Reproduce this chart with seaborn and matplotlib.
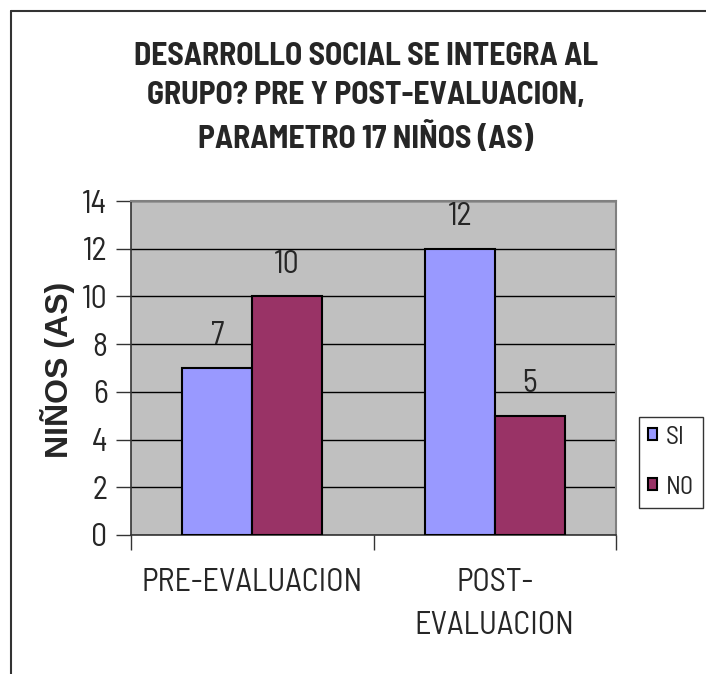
import matplotlib
matplotlib.use("Agg")
import matplotlib.pyplot as plt
import seaborn as sns
import pandas as pd
from matplotlib import font_manager as fm
from matplotlib.font_manager import FontProperties
from matplotlib.textpath import TextPath
from matplotlib.lines import Line2D
from matplotlib.patches import Patch

categories = ["PRE-EVALUACION", "POST-\nEVALUACION"]
series = ["SI", "N0"]
si_values = [7, 12]
no_values = [10, 5]
yticks = [0, 2, 4, 6, 8, 10, 12, 14]
title = "DESARROLLO SOCIAL SE INTEGRA AL\nGRUPO? PRE Y POST-EVALUACION,\nPARAMETRO 17 NIÑOS (AS)"
ylabel = "NIÑOS (AS)"
colors = {"SI": "#9999FF", "N0": "#993366"}

sns.set_theme(style="white")
plt.rcParams['font.family'] = ['Liberation Sans', 'DejaVu Sans']

PREFS = ["Liberation Sans Narrow", "Barlow Semi Condensed", "Roboto Condensed", "Barlow Condensed",
         "IBM Plex Sans Condensed", "Fira Sans Condensed", "Encode Sans Condensed",
         "Cabin Condensed", "DejaVu Sans"]


def wval(w):
    if isinstance(w, str):
        return {"normal": 400, "regular": 400, "book": 400, "bold": 700}.get(w.lower(), 400)
    return int(w)


def pick(bold):
    for name in PREFS:
        c = [f for f in fm.fontManager.ttflist
             if f.name == name and f.style == "normal" and "[" not in f.fname
             and (name != "DejaVu Sans" or f.stretch == "condensed")]
        if bold:
            c = [f for f in c if wval(f.weight) == 700]
        else:
            c = [f for f in c if wval(f.weight) == 400]
        if c:
            return FontProperties(fname=c[0].fname)
    return FontProperties(family="Liberation Sans", weight="bold" if bold else "normal")


fpR = pick(False)
fpB = pick(True)

df = pd.DataFrame({
    "cat": categories * 2,
    "serie": [series[0]] * 2 + [series[1]] * 2,
    "val": si_values + no_values,
})

fig = plt.figure(figsize=(7.06, 6.74), dpi=100)
renderer = fig.canvas.get_renderer()


def sized(fp, size):
    f = fp.copy()
    f.set_size(size)
    return f


def fit_size(fp, s, target_w, target_cap, base=20.0):
    t = fig.text(0, 0, s, fontproperties=sized(fp, base))
    w = t.get_window_extent(renderer).width
    t.remove()
    w_fit = base * target_w / w
    cap_pt = TextPath((0, 0), "H", prop=sized(fp, 100)).get_extents().height / 100
    h_fit = target_cap / (cap_pt * 100 / 72)
    return (w_fit * h_fit) ** 0.5


def line_spacing(fp, s, target, ls=1.2):
    one = fig.text(0, 0, s.split("\n")[0], fontproperties=fp)
    multi = fig.text(0, 0, s, fontproperties=fp, linespacing=ls)
    h1 = one.get_window_extent(renderer).height
    hn = multi.get_window_extent(renderer).height
    n = s.count("\n")
    one.remove(); multi.remove()
    return ls * target / ((hn - h1) / n)


def text_height(fp, s):
    t = fig.text(0, 0, s, fontproperties=fp)
    h = t.get_window_extent(renderer).height
    t.remove()
    return h


tick_size = fit_size(fpR, "10", 25, 23)
cat_size = fit_size(fpR, "PRE-EVALUACION", 226, 22)
title_size = fit_size(fpB, title.split("\n")[0], 478, 21.5)
leg_size = fit_size(fpR, "N0", 25, 20)

ax = fig.add_axes([131/706, 1-535/674, (616-131)/706, (535-201)/674])
sns.barplot(data=df, x="cat", y="val", hue="serie", palette=colors, width=0.577,
            saturation=1, edgecolor="black", linewidth=1.5, ax=ax, legend=False, zorder=3)

ax.set_facecolor("#C0C0C0")
ax.set_ylim(0, 14)
ax.set_xlim(-0.5, 1.5)
ax.set_yticks(yticks)
ax.set_yticklabels([str(t) for t in yticks], fontproperties=sized(fpR, tick_size))
ax.yaxis.grid(True, color="black", linewidth=1.0, zorder=0)
ax.set_axisbelow(True)
ax.tick_params(axis="y", length=11, width=1, color="#333333", pad=6, left=True)

fp_cat = sized(fpR, cat_size)
cat_ls = line_spacing(fp_cat, categories[1], 45)
ax.set_xticks([0, 1])
ax.set_xticklabels(categories, fontproperties=fp_cat, linespacing=cat_ls)
ax.tick_params(axis="x", length=0, pad=24)
ax.set_xticks([-0.5, 0.5, 1.5], minor=True)
ax.tick_params(axis="x", which="minor", length=11, width=1, color="#333333", bottom=True)
ax.set_xlabel("")
ax.set_ylabel(ylabel, fontsize=23, fontweight="bold", family="Liberation Sans")
ax.yaxis.set_label_coords((75-131)/485, (535-370)/334)
for s in ["left", "bottom"]:
    ax.spines[s].set_color("#333333")
    ax.spines[s].set_linewidth(1.2)
for s in ["top", "right"]:
    ax.spines[s].set_color("#808080")
    ax.spines[s].set_linewidth(1.5)

for cont in ax.containers:
    ax.bar_label(cont, padding=12, fontproperties=sized(fpR, tick_size))

fp_title = sized(fpB, title_size)
title_ls = line_spacing(fp_title, title, 42.5)
fig.text(366/706, 1-98/674, title, ha="center", va="center",
         fontproperties=fp_title, linespacing=title_ls)

# legend: box top 408, row centres 437 and 487, box bottom 515
fp_leg = sized(fpR, leg_size)
fs_px = leg_size * 100 / 72
row_h = text_height(fp_leg, "SI")
pad_px = 9
sep_px = max(50 - row_h, 2)
handles = [Patch(facecolor=colors[s], edgecolor="black", linewidth=1.5) for s in series]
top_px = 437 - pad_px - row_h / 2
leg = fig.legend(handles, series, loc="upper left", bbox_to_anchor=(639/706, 1-top_px/674),
                 prop=fp_leg, frameon=True, fancybox=False, edgecolor="black",
                 handlelength=9/fs_px, handleheight=9/fs_px, handletextpad=9/fs_px,
                 labelspacing=sep_px/fs_px, borderpad=pad_px/fs_px, borderaxespad=0)
leg.get_frame().set_linewidth(1.0)

fig.add_artist(Line2D([11/706, 11/706], [0, 1-11/674], color="#333333", linewidth=1.5))
fig.add_artist(Line2D([11/706, 1], [1-11/674, 1-11/674], color="#333333", linewidth=1.5))

fig.savefig("out.png", dpi=100)
